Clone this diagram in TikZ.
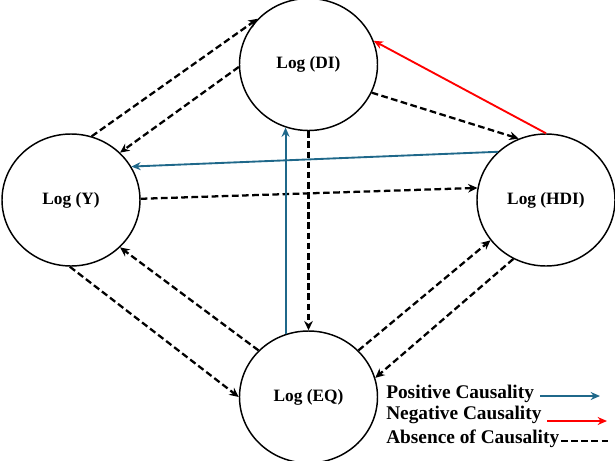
\documentclass[tikz,border=0pt]{standalone}
\usepackage{fontspec}
\setmainfont{Liberation Serif}
\usetikzlibrary{arrows.meta,shapes.geometric}
\definecolor{posblue}{RGB}{31,104,138}
\begin{document}
\begin{tikzpicture}[x=0.75pt,y=-0.75pt,
  var/.style={ellipse,draw,line width=1.1pt,minimum width=103.5pt,minimum height=99pt,inner sep=0pt,font=\fontsize{13}{15}\selectfont\bfseries},
  absentcaus/.style={draw=black,line width=1.7pt,dash pattern=on 5pt off 2.6pt,-{Stealth[length=7pt,width=6.5pt]}},
  poscaus/.style={draw=posblue,line width=1.4pt,-{Stealth[length=7pt,width=6pt]}},
  negcaus/.style={draw=red,line width=1.4pt,-{Stealth[length=7pt,width=6pt]}},
  legtext/.style={anchor=base west,inner sep=0pt,font=\fontsize{14.5}{16}\selectfont\bfseries}
]
\useasboundingbox (0,0) rectangle (615,461);
\node[var] (DI)  at (308.5,64.5) {Log (DI)};
\node[var] (Y)   at (71,200)     {Log (Y)};
\node[var] (HDI) at (546,200)    {Log (HDI)};
\node[var] (EQ)  at (308.5,397)  {Log (EQ)};

% absence of causality
\draw[absentcaus] (Y.72) -- (DI.138.6);
\draw[absentcaus] (DI.182) -- (Y.44.4);
\draw[absentcaus] (Y.1) -- (HDI.170);
\draw[absentcaus] (DI.-24) -- (HDI.114.4);
\draw[absentcaus] (DI.south) -- (EQ.north);
\draw[absentcaus] (Y.269) -- (EQ.180);
\draw[absentcaus] (EQ.137) -- (Y.316);
\draw[absentcaus] (EQ.43.5) -- (HDI.216);
\draw[absentcaus] (HDI.241) -- (EQ.16);

% positive causality
\draw[poscaus] (HDI.135) -- (Y.29.6);
\draw[poscaus] (EQ.110) -- (EQ.110 |- DI.250);

% negative causality
\draw[negcaus] (HDI.90) -- (DI.20);

% legend
\node[legtext] (L1) at (386,398) {Positive Causality};
\node[legtext] (L2) at (386,419) {Negative Causality};
\node[legtext] (L3) at (386,443) {Absence of Causality};
\coordinate (p1) at (540,396); \coordinate (p2) at (600,396);
\coordinate (n1) at (547,421); \coordinate (n2) at (607,421);
\coordinate (a1) at (561,441); \coordinate (a2) at (608,441);
\draw[poscaus] (p1) -- (p2);
\draw[negcaus] (n1) -- (n2);
\draw[draw=black,line width=1.7pt,dash pattern=on 5pt off 2.6pt] (a1) -- (a2);
\end{tikzpicture}
\end{document}
